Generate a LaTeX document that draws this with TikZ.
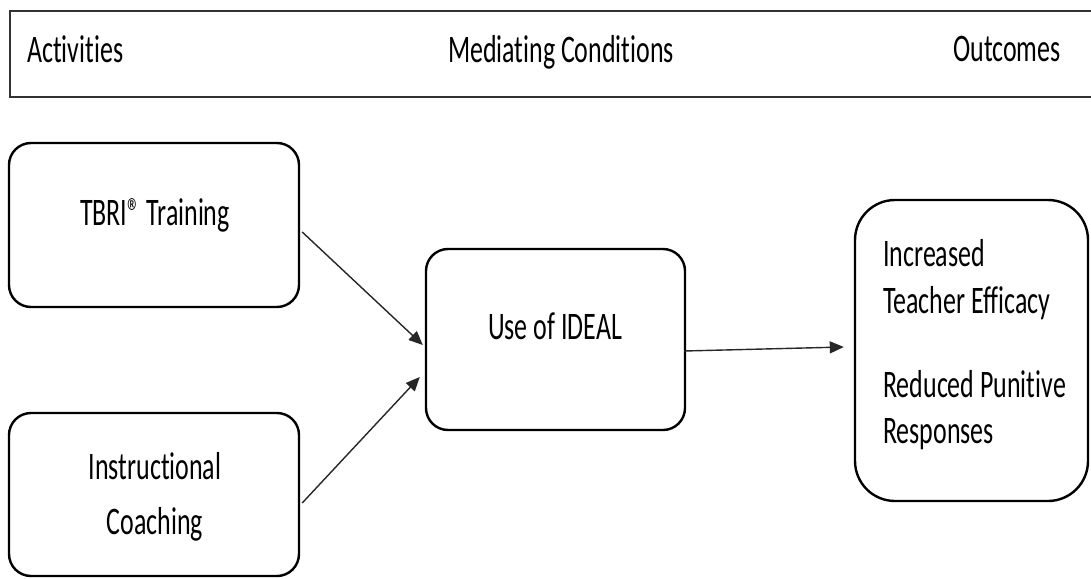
\documentclass[tikz,border=0pt]{standalone}
\usepackage{fontspec}
\usetikzlibrary{arrows.meta}
\newfontfamily\cfont[FakeStretch=0.665,Ligatures=NoCommon]{Carlito}
\begin{document}
\begin{tikzpicture}[x=1pt,y=-1pt,
  lbl/.style={inner sep=0pt,font=\cfont\fontsize{39}{44}\selectfont},
  box/.style={draw=black,line width=2.4pt,rounded corners=22pt,inner sep=0pt},
  conn/.style={draw=black!85,line width=1.4pt,-{Triangle[length=14pt,width=12pt]}}]
\useasboundingbox (0,0) rectangle (1091,578);
% header band
\draw[line width=2pt,black!80] (1095,11) -- (10,11) -- (10,97) -- (1095,97);
\node[lbl,anchor=base west] (hact) at (27,63) {Activities};
\node[lbl,anchor=base] (hmed) at (561,63) {Mediating Conditions};
\node[lbl,anchor=base] (hout) at (1007,62) {Outcomes};
% boxes
\node[box,minimum width=290pt,minimum height=164pt] (tbri) at (154,225) {};
\node[box,minimum width=290pt,minimum height=163pt] (coach) at (154,494.5) {};
\node[box,minimum width=259pt,minimum height=181pt] (ideal) at (555.5,339.5) {};
\node[box,rounded corners=40pt,minimum width=233pt,minimum height=301pt] (out) at (971.5,350.5) {};
% texts
\node[lbl,anchor=base] (ttbri) at (155,225) {TBRI® Training};
\node[lbl,anchor=base] (tcoach1) at (155,479) {Instructional};
\node[lbl,anchor=base] (tcoach2) at (155,534) {Coaching};
\node[lbl,anchor=base] (tideal) at (555,339) {Use of IDEAL};
\node[lbl,anchor=base west] (to1) at (883,266) {Increased};
\node[lbl,anchor=base west] (to2) at (883,313) {Teacher Efficacy};
\node[lbl,anchor=base west] (to3) at (883,397) {Reduced Punitive};
\node[lbl,anchor=base west] (to4) at (883,443) {Responses};
% connectors
\draw[conn] ([xshift=2pt,yshift=-7pt]tbri.east) -- ([xshift=-2pt,yshift=-5.5pt]ideal.west);
\draw[conn] ([xshift=2pt,yshift=-8.5pt]coach.east) -- ([xshift=-5pt,yshift=-37.5pt]ideal.west);
\draw[conn] ([xshift=-2pt,yshift=-11.5pt]ideal.east) -- ([xshift=-10pt,yshift=3.5pt]out.west);
\end{tikzpicture}
\end{document}
